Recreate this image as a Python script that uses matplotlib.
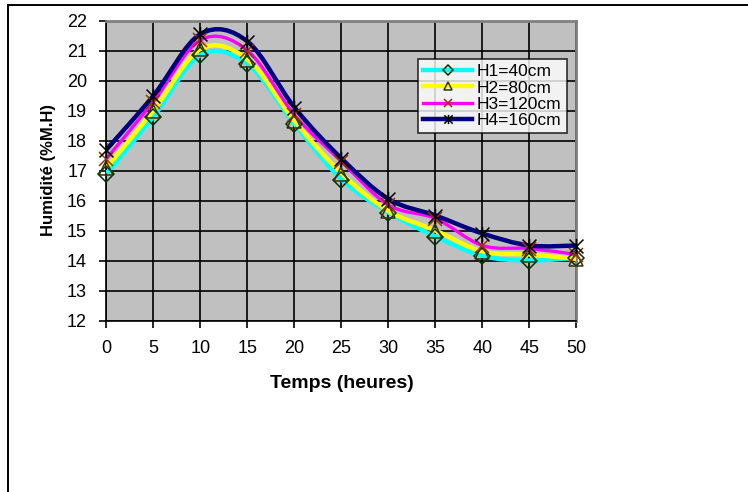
import numpy as np
import matplotlib
matplotlib.use("Agg")
import matplotlib.pyplot as plt
from matplotlib.path import Path
from matplotlib.patches import PathPatch
from matplotlib.lines import Line2D

plt.rcParams['font.family'] = ['Liberation Sans', 'DejaVu Sans']

temps = [0, 5, 10, 15, 20, 25, 30, 35, 40, 45, 50]
h1 = [16.9, 18.8, 20.85, 20.55, 18.55, 16.7, 15.6, 14.8, 14.15, 14.0, 14.1]
h2 = [17.1, 19.0, 21.05, 20.7, 18.65, 16.9, 15.65, 15.0, 14.3, 14.2, 14.05]
h3 = [17.4, 19.3, 21.35, 21.0, 18.85, 17.3, 15.85, 15.4, 14.5, 14.4, 14.2]
h4 = [17.7, 19.5, 21.55, 21.3, 19.1, 17.4, 16.05, 15.5, 14.9, 14.5, 14.5]
labels = ["H1=40cm", "H2=80cm", "H3=120cm", "H4=160cm"]
yticks = [12, 13, 14, 15, 16, 17, 18, 19, 20, 21, 22]
xticks = [0, 5, 10, 15, 20, 25, 30, 35, 40, 45, 50]

W, H = 748, 492
fig = plt.figure(figsize=(W / 100, H / 100), dpi=100)
ax = fig.add_axes([106.5 / W, 1 - 320.5 / H, (576.5 - 106.5) / W, (320.5 - 20.5) / H])

# outer frame
fig.add_artist(Line2D([8 / W, 8 / W], [0, 1 - 5 / H], transform=fig.transFigure, color='black', lw=1.4))
fig.add_artist(Line2D([8 / W, 1], [1 - 5 / H, 1 - 5 / H], transform=fig.transFigure, color='black', lw=1.4))

ax.set_facecolor('#C0C0C0')
ax.set_xlim(0, 50)
ax.set_ylim(12, 22)
ax.set_xticks(xticks)
ax.set_yticks(yticks)
ax.grid(True, color='black', lw=1.2)
ax.set_axisbelow(True)
for s in ['top', 'right']:
    ax.spines[s].set_color('#808080')
    ax.spines[s].set_linewidth(2)
for s in ['left', 'bottom']:
    ax.spines[s].set_color('black')
    ax.spines[s].set_linewidth(1.2)
ax.tick_params(axis='y', direction='out', length=5, width=1.2, pad=9, labelsize=13)
ax.tick_params(axis='x', direction='out', length=5, width=1.2, pad=9, labelsize=13)


def smooth_path(xs, ys):
    xs = np.asarray(xs, float)
    ys = np.asarray(ys, float)
    n = len(xs)
    verts = [(xs[0], ys[0])]
    codes = [Path.MOVETO]
    for i in range(n - 1):
        i0 = max(i - 1, 0)
        i3 = min(i + 2, n - 1)
        c1 = (xs[i] + (xs[i + 1] - xs[i0]) / 6, ys[i] + (ys[i + 1] - ys[i0]) / 6)
        c2 = (xs[i + 1] - (xs[i3] - xs[i]) / 6, ys[i + 1] - (ys[i3] - ys[i]) / 6)
        verts += [c1, c2, (xs[i + 1], ys[i + 1])]
        codes += [Path.CURVE4] * 3
    return Path(verts, codes)


star = Path([(-1, -1), (1, 1), (-1, 1), (1, -1), (0, -1.1), (0, 1.1)],
            [Path.MOVETO, Path.LINETO, Path.MOVETO, Path.LINETO, Path.MOVETO, Path.LINETO])

series = [h1, h2, h3, h4]
line_colors = ['#00FFFF', '#FFFF00', '#FF00FF', '#000080']
line_widths = [3.2, 3.2, 2.4, 3.2]
markers = ['D', '^', 'x', star]
mcolors = ['#003300', '#333300', '#993300', '#000000']
msizes = [8.5, 10, 9.5, 11]

handles = []
for ys, lc, lw in zip(series, line_colors, line_widths):
    ax.add_patch(PathPatch(smooth_path(temps, ys), facecolor='none', edgecolor=lc, lw=lw, zorder=3))
for ys, lc, lw, mk, mc, ms, lab in zip(series, line_colors, line_widths, markers, mcolors, msizes, labels):
    ax.plot(temps, ys, linestyle='none', marker=mk, markersize=ms, markerfacecolor='none',
            markeredgecolor=mc, markeredgewidth=1.1, zorder=4, clip_on=False)
    handles.append(Line2D([], [], color=lc, lw=lw, marker=mk, markersize=ms * 0.6,
                          markerfacecolor='none', markeredgecolor=mc, markeredgewidth=1.1, label=lab))

leg = fig.legend(handles=handles, loc='upper left', bbox_to_anchor=(418 / W, 1 - 59 / H),
                 bbox_transform=fig.transFigure, fontsize=12.5, frameon=True, fancybox=False,
                 handlelength=2.8, handletextpad=0.3, labelspacing=0.06, borderpad=0.3,
                 borderaxespad=0)
leg.get_frame().set_edgecolor('black')
leg.get_frame().set_linewidth(1.2)

ax.set_xlabel('Temps (heures)', fontsize=14, fontweight='bold', labelpad=13)
ax.set_ylabel('Humidité (%M.H)', fontsize=12, fontweight='bold', labelpad=8)

fig.savefig('out.png', dpi=100)
